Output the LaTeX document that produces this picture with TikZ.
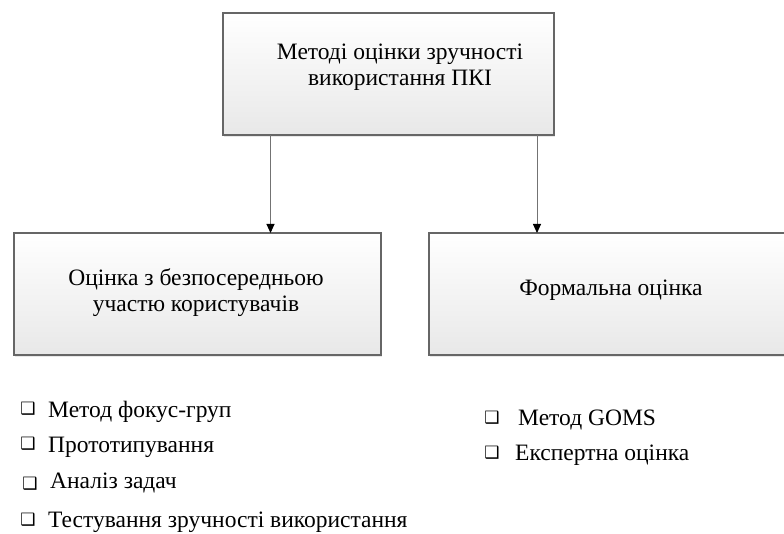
\documentclass[tikz,border=0pt]{standalone}
\usepackage{fontspec}
\setmainfont{Liberation Serif}
\newfontfamily\symfont{DejaVu Sans}
\usetikzlibrary{arrows.meta,shadows}
\tikzset{
  x=1pt,y=-1pt,
  boxstyle/.style={draw=black!60, line width=1.2pt, top color=white, bottom color=black!9,
    drop shadow={opacity=0.18, shadow xshift=1pt, shadow yshift=-2pt}},
  boxtext/.style={align=center, font=\fontsize{23.5}{26}\selectfont, inner sep=0pt},
  link/.style={draw=black!55, line width=0.9pt, -{Triangle[length=9pt,width=8pt,fill=black,color=black]}},
  itemstyle/.style={anchor=west, font=\fontsize{23.5}{26}\selectfont, inner sep=0pt},
  bulletstyle/.style={anchor=center, font=\symfont\fontsize{17}{17}\selectfont, inner sep=0pt}
}
\begin{document}
\begin{tikzpicture}
\useasboundingbox (0,0) rectangle (784,534);
\fill[white] (0,0) rectangle (784,534);

% boxes
\path[boxstyle] (223,13) rectangle (554,135);
\node[boxtext] (top) at (400,67) {Методі оцінки зручності\\використання ПКІ};
\coordinate (topL) at (270.5,135);
\coordinate (topR) at (537,135);

\path[boxstyle] (14,233) rectangle (381,355);
\node[boxtext] (left) at (196,293) {Оцінка з безпосередньою\\участю користувачів};
\coordinate (leftT) at (270.5,233);

\path[boxstyle] (429,233) rectangle (790,355);
\node[boxtext] (right) at (611,290) {Формальна оцінка};
\coordinate (rightT) at (537,233);

% connectors
\draw[link] (topL) -- (leftT);
\draw[link] (topR) -- (rightT);

% left list
\node[bulletstyle] (b1) at (28,409) {❑};
\node[itemstyle] (i1) at (48,412) {Метод фокус-груп};
\node[bulletstyle] (b2) at (28,444) {❑};
\node[itemstyle] (i2) at (48,447) {Прототипування};
\node[bulletstyle] (b3) at (30,484) {❑};
\node[itemstyle] (i3) at (50,483) {Аналіз задач};
\node[bulletstyle] (b4) at (28,520) {❑};
\node[itemstyle] (i4) at (48,522) {Тестування зручності використання};

% right list
\node[bulletstyle] (b5) at (492,418) {❑};
\node[itemstyle] (i5) at (518,420) {Метод GOMS};
\node[bulletstyle] (b6) at (492,453) {❑};
\node[itemstyle] (i6) at (515,455) {Експертна оцінка};
\end{tikzpicture}
\end{document}
